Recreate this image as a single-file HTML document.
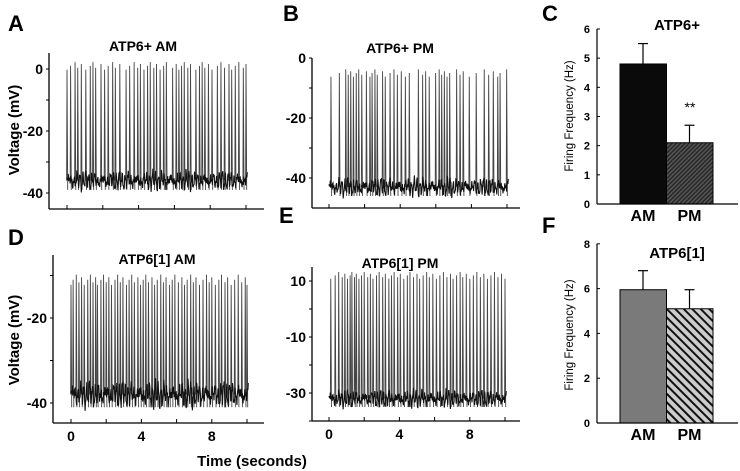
<!DOCTYPE html>
<html><head><meta charset="utf-8"><style>
body{margin:0;background:#fff}
svg{display:block;font-family:"Liberation Sans",Arial,sans-serif;font-weight:bold}
</style></head><body>
<svg id="fig" width="740" height="471" viewBox="0 0 740 471" xmlns="http://www.w3.org/2000/svg">
<defs>
<pattern id="hatchC" patternUnits="userSpaceOnUse" width="3" height="3" patternTransform="rotate(45)">
<rect width="3" height="3" fill="#555"/><rect width="1.3" height="3" fill="#222"/></pattern>
<pattern id="hatchF" patternUnits="userSpaceOnUse" width="6" height="6" patternTransform="rotate(-45)">
<rect width="6" height="6" fill="#ccc"/><rect width="2" height="6" fill="#111"/></pattern>
</defs>
<g id="traces"></g>
<g id="bars"></g>
<text x="8" y="31" font-size="22">A</text>
<text x="283" y="21" font-size="22">B</text>
<text x="542" y="21" font-size="22">C</text>
<text x="8" y="245" font-size="22">D</text>
<text x="279" y="223" font-size="22">E</text>
<text x="542" y="233" font-size="22">F</text>
<text x="252" y="466" font-size="15" text-anchor="middle">Time (seconds)</text>
</svg>
<script>
// Panel data
const spikesA=[0.0,0.2,0.45,0.6,0.8,1.05,1.3,1.45,1.6,1.9,2.1,2.3,2.55,2.7,2.95,3.3,3.5,3.75,3.95,4.1,4.3,4.5,4.65,4.85,5.0,5.2,5.4,5.55,5.9,6.1,6.25,6.4,6.55,6.75,6.9,7.2,7.4,7.55,7.7,7.9,8.1,8.4,8.6,8.8,9.05,9.2,9.4,9.6,9.85,10.0];
const spikesB=[0.11,0.58,0.94,1.08,1.22,1.37,1.53,1.67,1.84,2.1,2.3,2.42,2.58,2.71,3.01,3.16,3.43,3.65,3.84,4.06,4.29,4.51,5.02,5.26,5.43,5.63,5.99,6.19,6.33,6.48,6.63,6.78,7.17,7.36,7.54,7.88,8.27,8.72,8.97,9.23,9.48,9.61,9.98];
const spikesD=[0.0,0.12,0.3,0.45,0.6,0.75,0.95,1.1,1.25,1.4,1.5,1.7,1.85,2.0,2.15,2.3,2.5,2.65,2.8,2.95,3.15,3.3,3.45,3.6,3.8,3.95,4.1,4.25,4.4,4.6,4.75,4.9,5.1,5.25,5.4,5.6,5.75,5.9,6.1,6.3,6.45,6.6,6.8,6.95,7.1,7.3,7.5,7.7,7.85,8.0,8.2,8.4,8.55,8.75,8.9,9.1,9.3,9.5,9.7,9.9,10.0];
const spikesE=[0.1,0.35,0.55,0.75,0.9,1.05,1.2,1.3,1.45,1.55,1.7,1.85,2.0,2.2,2.35,2.5,2.7,2.85,3.05,3.2,3.4,3.55,3.7,3.9,4.05,4.25,4.45,4.6,4.8,5.0,5.15,5.35,5.55,5.7,5.9,6.1,6.3,6.5,6.7,6.9,7.05,7.25,7.45,7.6,7.8,8.0,8.2,8.4,8.6,8.8,9.0,9.2,9.4,9.6,9.8,10.0];
const baselineA=-36, peakA=1, baselineB=-43, peakB=-5, baselineD=-38, peakD=-11, baselineE=-32, peakE=12;
const categories=["AM","PM"];
const freqC=[4.8,2.1], errC=[0.7,0.6];
const freqF=[5.95,5.1], errF=[0.85,0.85];
const ticksC=[0,1,2,3,4,5,6], ticksF=[0,2,4,6,8];
const timeTicks=[0,2,4,6,8,10], timeLabels=[0,4,8];

const NS="http://www.w3.org/2000/svg";
function mk(parent,tag,attrs){const e=document.createElementNS(NS,tag);for(const k in attrs)e.setAttribute(k,attrs[k]);parent.appendChild(e);return e;}
const T=document.getElementById('traces'), B=document.getElementById('bars');

function trace(p){
  const g=mk(T,'g',{});
  
  
  const xs=t=>p.x0+t*p.pxs, ys=v=>p.y0-(v-p.v0)*p.pxv;
  const ay=mk(g,'line',{x1:p.ax,y1:p.top,x2:p.ax,y2:p.bot,stroke:'#000','stroke-width':1.3});
  
  
  const axl=mk(g,'line',{x1:p.ax,y1:p.bot,x2:p.right,y2:p.bot,stroke:'#000','stroke-width':1.3});
  
  
  p.yt.forEach(v=>{mk(g,'line',{x1:p.ax-3,y1:ys(v),x2:p.ax,y2:ys(v),stroke:'#000'});});
  p.yl.forEach(v=>{const t=mk(g,'text',{x:p.ax-6,y:ys(v)+5,'font-size':14,'text-anchor':'end'});t.textContent=v;
    
    });
  timeTicks.forEach(v=>{mk(g,'line',{x1:xs(v),y1:p.bot-4,x2:xs(v),y2:p.bot,stroke:'#000'});});
  if(p.xl) timeLabels.forEach(v=>{const t=mk(g,'text',{x:xs(v),y:p.bot+18,'font-size':14,'text-anchor':'middle'});t.textContent=v;
    
    });
  const tt=mk(g,'text',{x:p.tx,y:p.ty,'font-size':14,'text-anchor':'middle'});tt.textContent=p.title;
  
  
  if(p.vl){const l=mk(g,'text',{transform:`translate(${p.vlx},${p.vly}) rotate(-90)`,'font-size':15,'text-anchor':'middle'});l.textContent='Voltage (mV)';
    
    }
  p.spikes.forEach((s,k)=>{const pk=p.peak+((k*7)%5-2)*0.6;
    const l=mk(g,'path',{d:`M${xs(s)-0.4} ${ys(p.base)} L${xs(s)} ${ys(pk)} L${xs(s)+0.7} ${ys(p.base-3)}`,fill:'none',stroke:'#444','stroke-width':0.9});
    
    });
  let d='';const t1=10.1;let i=0;
  for(let t=0;t<=t1;t+=0.025){const n=Math.sin(t*37.1)*1.4+Math.sin(t*91.7+1)*1.1+Math.sin(t*13.3)*0.8+Math.sin(t*211)*1.0;
    d+=(i++?'L':'M')+xs(t).toFixed(1)+' '+ys(p.base+n).toFixed(1);}
  const bl=mk(g,'path',{d:d,fill:'none',stroke:'#111','stroke-width':1.1});
  
  
}
trace({name:'trace-a',spikes:spikesA,base:baselineA,peak:peakA,x0:67,pxs:17.9,y0:69,v0:0,pxv:3.1,ax:49,top:53,bot:209,right:264,yt:[0,-10,-20,-30,-40],yl:[0,-20,-40],title:'ATP6+ AM',tx:143,ty:51,vl:1,vlx:19,vly:130});
trace({name:'trace-b',spikes:spikesB,base:baselineB,peak:peakB,x0:329,pxs:17.8,y0:58,v0:0,pxv:3.0,ax:312,top:58,bot:208,right:520,yt:[0,-10,-20,-30,-40],yl:[0,-20,-40],title:'ATP6+ PM',tx:400,ty:53});
trace({name:'trace-d',spikes:spikesD,base:baselineD,peak:peakD,x0:71,pxs:17.6,y0:318,v0:-20,pxv:4.25,ax:53,top:255,bot:423,right:264,yt:[-10,-20,-30,-40],yl:[-20,-40],title:'ATP6[1] AM',tx:157,ty:264,vl:1,vlx:19,vly:340,xl:1});
trace({name:'trace-e',spikes:spikesE,base:baselineE,peak:peakE,x0:329,pxs:17.6,y0:281,v0:10,pxv:2.8,ax:312,top:267,bot:421,right:520,yt:[10,0,-10,-20,-30,-40],yl:[10,-10,-30],title:'ATP6[1] PM',tx:400,ty:268,xl:1});

function barChart(p){
  const g=mk(B,'g',{});
  
  
  const ys=v=>p.y0-v*p.pxv;
  p.vals.forEach((v,i)=>{
    const x=620+i*46.5;
    const ey=mk(g,'line',{x1:x+23,y1:ys(v),x2:x+23,y2:ys(v+p.err[i]),stroke:'#000','stroke-width':1.2});
    
    
    mk(g,'line',{x1:x+18,y1:ys(v+p.err[i]),x2:x+28,y2:ys(v+p.err[i]),stroke:'#000','stroke-width':1.2});
    const r=mk(g,'rect',{x:x,y:ys(v),width:46.5,height:p.y0-ys(v),fill:p.fills[i],stroke:'#000','stroke-width':1});
    
    
    const t=mk(g,'text',{x:x+23,y:p.y0+17,'font-size':16,'text-anchor':'middle'});t.textContent=categories[i];
    
    
  });
  mk(g,'line',{x1:597,y1:ys(p.ticks[p.ticks.length-1]),x2:597,y2:p.y0,stroke:'#000','stroke-width':1.2});
  mk(g,'line',{x1:597,y1:p.y0,x2:738,y2:p.y0,stroke:'#000','stroke-width':1.2});
  p.ticks.forEach(v=>{mk(g,'line',{x1:597,y1:ys(v),x2:600,y2:ys(v),stroke:'#000'});
    const t=mk(g,'text',{x:590,y:ys(v)+4,'font-size':11,'text-anchor':'end'});t.textContent=v;
    
    });
  const l=mk(g,'text',{transform:`translate(573,${p.y0-88}) rotate(-90)`,'font-size':11.5,'font-weight':'normal','text-anchor':'middle'});l.textContent='Firing Frequency (Hz)';
  
  
  const tt=mk(g,'text',{x:677,y:p.ty,'font-size':15,'text-anchor':'middle'});tt.textContent=p.title;
  
  
}
barChart({name:'bar-chart-c',vals:freqC,err:errC,ticks:ticksC,y0:204,pxv:29.17,fills:['#0a0a0a','url(#hatchC)'],title:'ATP6+',ty:30});
barChart({name:'bar-chart-f',vals:freqF,err:errF,ticks:ticksF,y0:423,pxv:22.4,fills:['#7a7a7a','url(#hatchF)'],title:'ATP6[1]',ty:258});
const st=mk(B,'text',{x:690,y:112,'font-size':14,'font-weight':'normal','text-anchor':'middle'});st.textContent='**';


</script>
</body></html>
